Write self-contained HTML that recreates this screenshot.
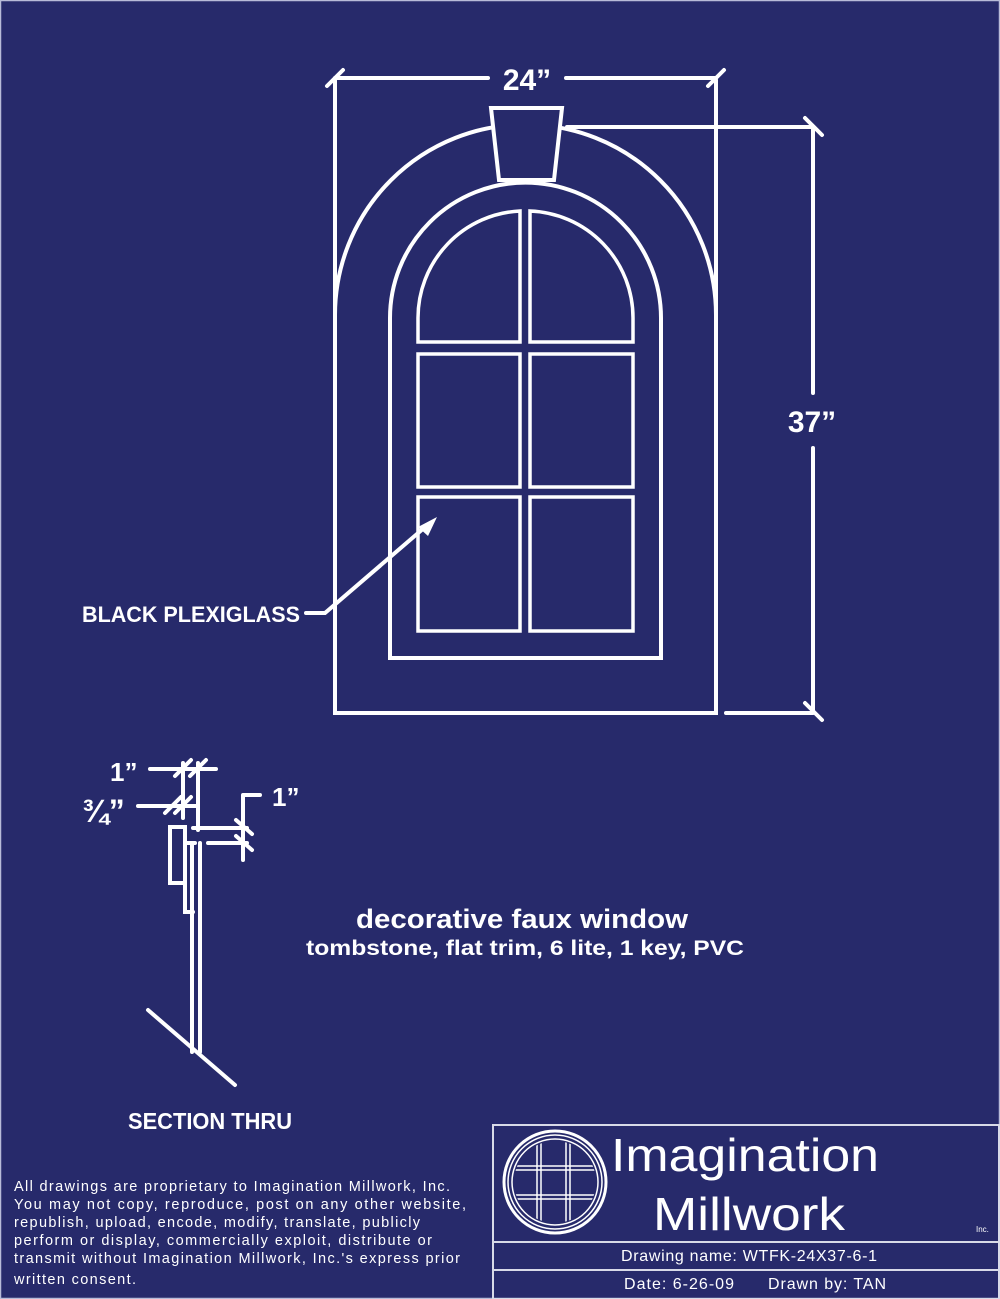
<!DOCTYPE html>
<html><head><meta charset="utf-8"><style>
html,body{margin:0;padding:0;background:#272a6b;}
svg{display:block;}
text{fill:#fff;font-family:"Liberation Sans",sans-serif;}
</style></head><body>
<svg width="1000" height="1299" viewBox="0 0 1000 1299" xmlns="http://www.w3.org/2000/svg">
<rect x="0" y="0" width="1000" height="1299" fill="#272a6b"/>
<rect x="0.5" y="0.5" width="999" height="1298" fill="none" stroke="#b8bbd8" stroke-width="1.5"/>
<g fill="none" stroke="#fff" stroke-width="4" stroke-linecap="round" stroke-linejoin="miter">
<path d="M335,713 V315 A190.5,190.5 0 0 1 716,315 V713 Z"/>
<path d="M491,108 H562 L554,180 H499 Z" fill="#272a6b"/>
<path d="M390,658 V318 A135.5,135.5 0 0 1 661,318 V658 Z"/>
<path d="M418,342 V318 A107,107 0 0 1 520,211 V342 Z" stroke-width="3.5"/>
<path d="M530,342 V211 A107,107 0 0 1 633,318 V342 Z" stroke-width="3.5"/>
<rect x="418" y="354" width="102" height="133" stroke-width="3.5"/>
<rect x="530" y="354" width="103" height="133" stroke-width="3.5"/>
<rect x="418" y="497" width="102" height="134" stroke-width="3.5"/>
<rect x="530" y="497" width="103" height="134" stroke-width="3.5"/>
<path d="M335,78 H488 M566,78 H716 M335,80 V713 M716,80 V713"/>
<path d="M327,86 L343,70 M708,86 L724,70"/>
<path d="M567,127 H813 M726,713 H813 M813,128 V393 M813,448 V713"/>
<path d="M805,118 L822,135 M805,703 L822,720"/>
<path d="M306,613 H325 L424,528"/>
<path d="M192,843 V1052 M200,843 V1052 M148,1010 L235,1085"/>
<rect x="170" y="827" width="15" height="56"/>
<path d="M185,843 H195 M185,843 V912 H193"/>
<path d="M183,763 V818 M198,763 V830"/>
<path d="M150,769 H216 M138,806 H197"/>
<path d="M175,776 L191,760 M190,776 L206,760 M165,813 L181,797 M175,813 L191,797"/>
<path d="M193,828 H247 M208,843 H247 M243,795 V860 M243,795 H260"/>
<path d="M236,820 L252,834 M236,836 L252,850"/>
</g>
<path d="M437,517 L418,527 L428,536 Z" fill="#fff"/>
<text x="527" y="90" font-size="30" font-weight="bold" text-anchor="middle">24”</text>
<text x="812" y="432" font-size="30" font-weight="bold" text-anchor="middle">37”</text>
<text x="82" y="622" font-size="22" font-weight="bold" textLength="218" lengthAdjust="spacingAndGlyphs">BLACK PLEXIGLASS</text>
<text x="110" y="781" font-size="26" font-weight="bold">1”</text>
<text x="82" y="822" font-size="32" font-weight="bold">¾”</text>
<text x="272" y="806" font-size="26" font-weight="bold">1”</text>
<text x="128" y="1129" font-size="23" font-weight="bold" textLength="164" lengthAdjust="spacingAndGlyphs">SECTION THRU</text>
<text x="522" y="928" font-size="27" font-weight="bold" text-anchor="middle" textLength="332" lengthAdjust="spacingAndGlyphs">decorative faux window</text>
<text x="525" y="955" font-size="21" font-weight="bold" text-anchor="middle" textLength="438" lengthAdjust="spacingAndGlyphs">tombstone, flat trim, 6 lite, 1 key, PVC</text>
<g font-size="14.5">
<text x="14" y="1191" textLength="436" lengthAdjust="spacing">All drawings are proprietary to Imagination Millwork, Inc.</text>
<text x="14" y="1209" textLength="452" lengthAdjust="spacing">You may not copy, reproduce, post on any other website,</text>
<text x="14" y="1227" textLength="406" lengthAdjust="spacing">republish, upload, encode, modify, translate, publicly</text>
<text x="14" y="1245" textLength="418" lengthAdjust="spacing">perform or display, commercially exploit, distribute or</text>
<text x="14" y="1263" textLength="446" lengthAdjust="spacing">transmit without Imagination Millwork, Inc.'s express prior</text>
<text x="14" y="1284" textLength="122" lengthAdjust="spacing">written consent.</text>
</g>
<g fill="none" stroke="#d8dae8" stroke-width="2">
<rect x="493" y="1125" width="506" height="174"/>
<path d="M493,1242 H999 M493,1270 H999"/>
</g>
<defs><clipPath id="c"><circle cx="555" cy="1182" r="41"/></clipPath></defs>
<g fill="none" stroke="#fff">
<circle cx="555" cy="1182" r="51" stroke-width="3"/>
<circle cx="555" cy="1182" r="47" stroke-width="1.5"/>
<circle cx="555" cy="1182" r="43" stroke-width="1.5"/>
<g clip-path="url(#c)" stroke-width="1.5">
<path d="M537,1130 V1240 M541,1130 V1240 M566,1130 V1240 M570,1130 V1240 M500,1166 H610 M500,1170 H610 M500,1195 H610 M500,1199 H610"/>
</g>
</g>
<text x="745" y="1171" font-size="46" text-anchor="middle" textLength="268" lengthAdjust="spacingAndGlyphs">Imagination</text>
<text x="749" y="1230" font-size="46" text-anchor="middle" textLength="192" lengthAdjust="spacingAndGlyphs">Millwork</text>
<text x="976" y="1232" font-size="8">Inc.</text>
<text x="621" y="1261" font-size="16" textLength="256" lengthAdjust="spacing">Drawing name:  WTFK-24X37-6-1</text>
<text x="624" y="1289" font-size="16" textLength="110" lengthAdjust="spacing">Date: 6-26-09</text>
<text x="768" y="1289" font-size="16" textLength="118" lengthAdjust="spacing">Drawn by:  TAN</text>
</svg>
</body></html>
